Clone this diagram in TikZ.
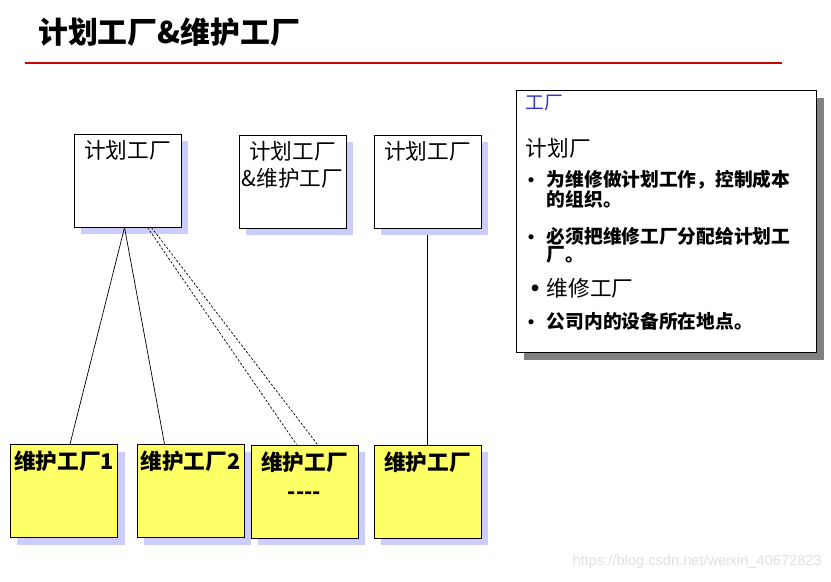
\documentclass[tikz,border=0pt]{standalone}
\usepackage{fontspec}
\newfontfamily\cjk{Noto Sans CJK SC}
\newfontfamily\wmfont{Liberation Sans}
\usetikzlibrary{calc,shadows,positioning}
\definecolor{LineClr}{rgb}{0.8,0,0}
\definecolor{MaintClr}{RGB}{255,255,102}
\definecolor{ShadowClr}{RGB}{204,204,255}
\definecolor{NoteShadowClr}{RGB}{128,128,128}
\definecolor{BlueClr}{RGB}{51,51,204}
\newcommand{\Bul}[1]{{\wmfont\mdseries\fontsize{#1}{#1}\selectfont\textbullet}}
\newcommand{\BulItem}[3][0.57cm]{\makebox[#1][l]{#2}\parbox[t]{7.8cm}{#3}}

\begin{document}
\begin{tikzpicture}[x=0.03cm,y=-0.03cm,
  box/.style={draw=black,line width=0.8pt,minimum width=3.21cm,minimum height=2.79cm,inner sep=0pt,
    drop shadow={shadow xshift=0.21cm,shadow yshift=-0.21cm,fill=ShadowClr,opacity=1}},
  planbox/.style={box,fill=white},
  maintbox/.style={box,fill=MaintClr},
  boxtxt/.style={anchor=north,inner sep=0pt,yshift=-0.2cm,align=center,font=\cjk\fontsize{18.5}{23}\selectfont},
  mainttxt/.style={boxtxt,font=\cjk\bfseries\fontsize{18.5}{25.5}\selectfont},
  link/.style={line width=0.6pt},
  dashlink/.style={line width=0.6pt,dash pattern=on 2pt off 1.5pt},
  notetxt/.style={anchor=base west,inner sep=0pt,font=\cjk\fontsize{16}{15.3}\selectfont},
  notebold/.style={notetxt,font=\cjk\bfseries\fontsize{16}{15.3}\selectfont}]
\useasboundingbox (0,0) rectangle (831,581);

\node[anchor=base west,inner sep=0pt,font=\cjk\bfseries\fontsize{25.5}{30}\selectfont] (title) at (38,43) {计划工厂\&维护工厂};
\draw[LineClr,line width=1.8pt] (25,63) -- (782,63);

\node[planbox,label={[boxtxt]north:计划工厂}] (P1) at (127.5,180.5) {};
\node[planbox,label={[boxtxt]north:{计划工厂\\\&维护工厂}}] (P2) at (292.5,181.5) {};
\node[planbox,label={[boxtxt]north:计划工厂}] (P3) at (427.5,181.5) {};

\node[maintbox,label={[mainttxt]north:维护工厂1}] (M1) at (64,491) {};
\node[maintbox,label={[mainttxt]north:维护工厂2}] (M2) at (190.5,491) {};
\node[maintbox,label={[mainttxt]north:{维护工厂\\----}}] (M3) at (304.5,491.5) {};
\node[maintbox,label={[mainttxt]north:维护工厂}] (M4) at (427.5,491.5) {};

\draw[link] ($(P1.south west)+(51,0)$) -- ($(M1.north west)+(60,0)$);
\draw[link] ($(P1.south west)+(51,0)$) -- ($(M2.north west)+(28,0)$);
\draw[dashlink] ($(P1.south west)+(74,0)$) -- ($(M3.north west)+(46,0)$);
\draw[dashlink] ($(P1.south west)+(78,0)$) -- ($(M3.north west)+(67,0)$);
\draw[link] ($(P3.south)+(0,7)$) -- (M4.north);

\node[draw=black,line width=0.8pt,fill=white,minimum width=9cm,minimum height=7.86cm,
  drop shadow={shadow xshift=0.24cm,shadow yshift=-0.24cm,fill=NoteShadowClr,opacity=1}] (R) at (666,221) {};
\node[notetxt,text=BlueClr] (N0) at ($(R.north west)+(10,20)$) {工厂};
\node[notetxt,font=\cjk\fontsize{18.5}{22}\selectfont] (N1) at ($(R.north west)+(10,67)$) {计划厂};
\node[notebold] (N2) at ($(R.north west)+(12,97)$) {\BulItem{\Bul{16}}{为维修做计划工作，控制成本\\的组织。}};
\node[notebold] (N3) at ($(R.north west)+(12,154)$) {\BulItem{\Bul{16}}{必须把维修工厂分配给计划工\\厂。}};
\node[notetxt,font=\cjk\fontsize{18.5}{22}\selectfont] (N4) at ($(R.north west)+(15,207)$) {\BulItem[0.48cm]{\Bul{21}}{维修工厂}};
\node[notebold] (N5) at ($(R.north west)+(12,239)$) {\BulItem{\Bul{16}}{公司内的设备所在地点。}};

\node[anchor=east,inner sep=0pt,font=\wmfont\fontsize{12.5}{14}\selectfont,text=black!12] (wm) at (822,562) {https://blog.csdn.net/weixin\_40672823};
\end{tikzpicture}
\end{document}
